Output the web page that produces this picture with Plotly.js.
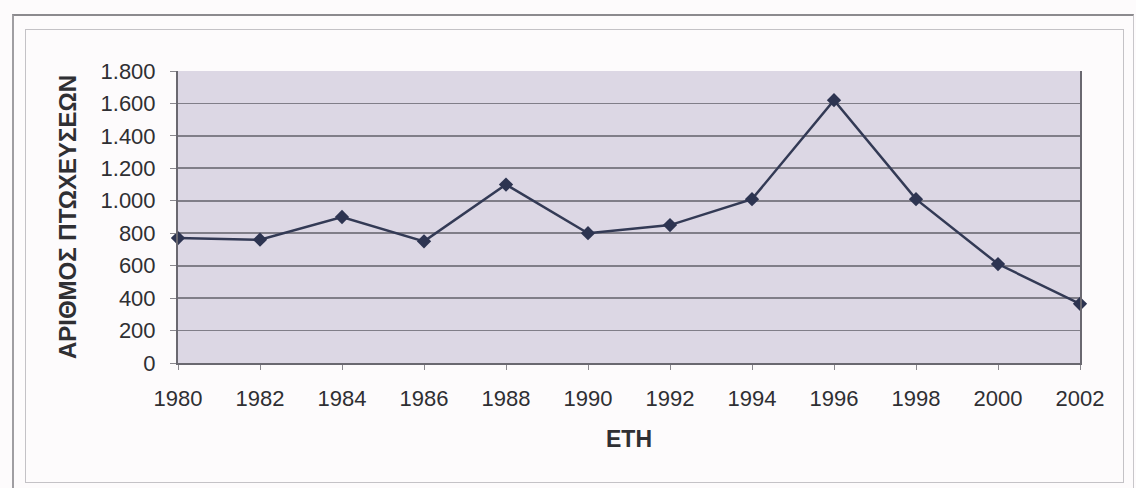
<!DOCTYPE html>
<html>
<head>
<meta charset="utf-8">
<script src="https://cdn.plot.ly/plotly-3.0.1.min.js"></script>
<style>
  html, body { margin: 0; padding: 0; background: #fdfbfc; }
  #wrap { position: relative; width: 1136px; height: 488px; overflow: hidden; }
  #chart { position: absolute; left: 0; top: 0; width: 1136px; height: 488px; }
  .frame { position: absolute; pointer-events: none; box-sizing: border-box; }
  #outer { left: 12px; top: 14px; width: 1122px; height: 480px; border-top: 2px solid #8c8a8e; border-left: 2px solid #a09ea2; border-right: 1px solid #c8c6ca; }
  #inner { left: 25px; top: 29px; width: 1099px; height: 454px; border: 1px solid #c4c2c6; }
</style>
</head>
<body>
<div id="wrap">
  <div id="chart"></div>
  <div id="outer" class="frame"></div>
  <div id="inner" class="frame"></div>
</div>
<script>
// Bankruptcies per year
const years = [1980, 1982, 1984, 1986, 1988, 1990, 1992, 1994, 1996, 1998, 2000, 2002];
const bankruptcies = [770, 760, 900, 750, 1100, 800, 850, 1010, 1620, 1010, 610, 365];
const yTicks = [0, 200, 400, 600, 800, 1000, 1200, 1400, 1600, 1800];

const font = 'Liberation Sans, Arial, sans-serif';
const ink = '#2f2f33';

Plotly.newPlot('chart', [{
  x: years,
  y: bankruptcies,
  type: 'scatter',
  mode: 'lines+markers',
  line: { color: '#333a55', width: 2.5 },
  marker: { symbol: 'diamond', size: 11, color: '#2d3451' },
  cliponaxis: false,
  hoverinfo: 'x+y'
}], {
  width: 1136,
  height: 488,
  margin: { l: 178, r: 56, t: 71, b: 125 },
  paper_bgcolor: 'rgba(0,0,0,0)',
  plot_bgcolor: '#dcd7e4',
  separators: ',.',
  showlegend: false,
  font: { family: font, color: ink, size: 22 },
  xaxis: {
    range: [1980, 2002],
    tickvals: years,
    ticktext: years.map(String),
    showgrid: false,
    zeroline: false,
    showline: true,
    linecolor: '#6a6870',
    linewidth: 2,
    ticks: 'outside',
    ticklen: 5,
    tickcolor: '#8a888e',
    ticklabelstandoff: 10,
    tickfont: { family: font, size: 22, color: ink },
    title: { text: '<b>ΕΤΗ</b>', font: { family: font, size: 23, color: ink }, standoff: 20 },
    fixedrange: true
  },
  yaxis: {
    range: [0, 1800],
    tickvals: yTicks,
    tickformat: ',d',
    separatethousands: true,
    showgrid: true,
    gridcolor: '#807e88',
    gridwidth: 1.8,
    zeroline: false,
    showline: true,
    linecolor: '#6a6870',
    linewidth: 2,
    mirror: true,
    ticks: 'outside',
    ticklen: 6,
    tickcolor: '#8a888e',
    ticklabelstandoff: 10,
    tickfont: { family: font, size: 22, color: ink },
    title: { text: '<b>ΑΡΙΘΜΟΣ ΠΤΩΧΕΥΣΕΩΝ</b>', font: { family: font, size: 24, color: ink }, standoff: 17 },
    fixedrange: true
  }
}, { displayModeBar: false, staticPlot: true });
</script>
</body>
</html>
